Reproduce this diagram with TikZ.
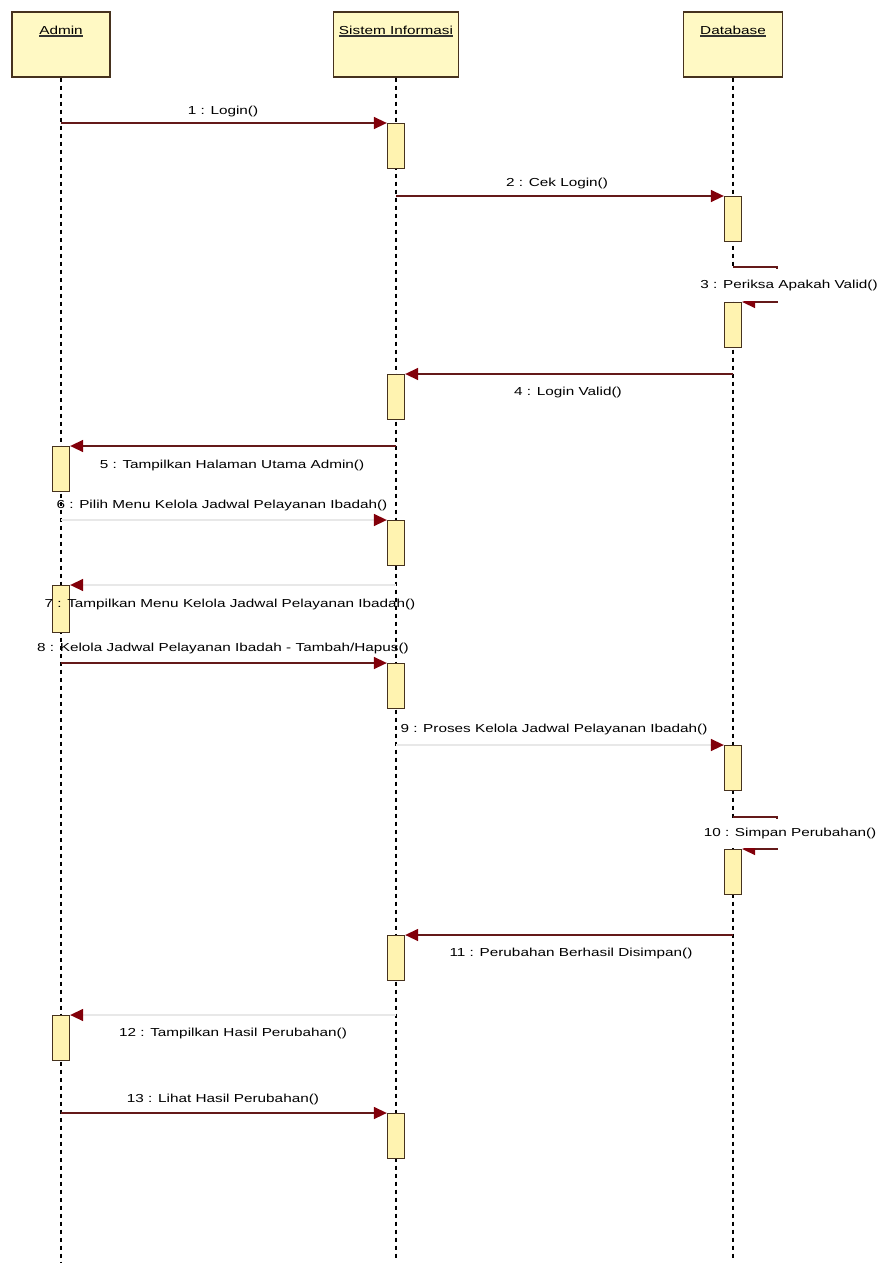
\documentclass[tikz,border=0pt]{standalone}
\usepackage{fontspec}
\setmainfont{Liberation Sans}
\usetikzlibrary{arrows.meta}
\definecolor{hdrfill}{RGB}{255,249,196}
\definecolor{actfill}{RGB}{255,243,176}
\definecolor{brd}{RGB}{70,50,30}
\definecolor{msgline}{RGB}{100,25,25}
\definecolor{headc}{RGB}{130,0,10}
\definecolor{faint}{RGB}{232,232,232}
\newcommand\wide[1]{\scalebox{1.32}[1]{#1}}
\begin{document}
\begin{tikzpicture}[x=1pt,y=-1pt,
  every node/.style={font=\fontsize{11.6}{13}\selectfont},
  header/.style={draw=brd, fill=hdrfill, line width=1.6pt, minimum width=#1, minimum height=65pt, anchor=north, inner sep=0},
  lifeline/.style={draw=black, line width=1.1pt, dash pattern=on 4pt off 4pt},
  act/.style={draw=brd, fill=actfill, line width=1.3pt, minimum width=17pt, minimum height=45pt, anchor=north, inner sep=0},
  msg/.style={draw=msgline, line width=1.5pt, -{Triangle[length=13pt,width=12pt,color=headc]}},
  faintmsg/.style={msg, draw=faint},
  lbl/.style={inner sep=0},
  hdrtext/.style={inner sep=0, anchor=base},
  uline/.style={draw=black!80, line width=1.2pt},
  selflbl/.style={fill=white, inner sep=0, inner xsep=1pt, minimum height=#1},
]
\useasboundingbox (0,0) rectangle (879,1266);

% headers
\node[header=98pt] (hA) at (61,11) {};
\node[header=125pt] (hS) at (396,11) {};
\node[header=99pt] (hD) at (733,11) {};
\node[hdrtext] (tA) at (61,34) {\wide{Admin}};
\node[hdrtext] (tS) at (396,34) {\wide{Sistem Informasi}};
\node[hdrtext] (tD) at (733,34) {\wide{Database}};
\draw[uline] ([yshift=-2pt]tA.base west) -- ([yshift=-2pt]tA.base east);
\draw[uline] ([yshift=-2pt]tS.base west) -- ([yshift=-2pt]tS.base east);
\draw[uline] ([yshift=-2pt]tD.base west) -- ([yshift=-2pt]tD.base east);

% lifelines
\coordinate (eA) at (61,1263);
\coordinate (eS) at (396,1260);
\coordinate (eD) at (733,1260);
\draw[lifeline] (hA.south) -- (eA);
\draw[lifeline] (hS.south) -- (eS);
\draw[lifeline] (hD.south) -- (eD);

% activations
\node[act] (S1) at (396,123) {};
\node[act] (D2) at (733,196) {};
\node[act] (D3) at (733,302) {};
\node[act] (S4) at (396,374) {};
\node[act] (A5) at (61,446) {};
\node[act] (S6) at (396,520) {};
\node[act,minimum height=47pt] (A7) at (61,585) {};
\node[act] (S8) at (396,663) {};
\node[act] (D9) at (733,745) {};
\node[act] (D10) at (733,849) {};
\node[act] (S11) at (396,935) {};
\node[act] (A12) at (61,1015) {};
\node[act] (S13) at (396,1113) {};

% messages
\coordinate (s3) at (733,267);
\coordinate (s10) at (733,817);
\draw[msg] (hA |- S1.north) -- (S1.north west);
\draw[msg] (hS |- D2.north) -- (D2.north west);
\draw[msg] (s3) -- ++(44,0) |- (D3.north east);
\draw[msg] (hD |- S4.north) -- (S4.north east);
\draw[msg] (hS |- A5.north) -- (A5.north east);
\draw[faintmsg] (hA |- S6.north) -- (S6.north west);
\draw[faintmsg] (hS |- A7.north) -- (A7.north east);
\draw[msg] (hA |- S8.north) -- (S8.north west);
\draw[faintmsg] (hS |- D9.north) -- (D9.north west);
\draw[msg] (s10) -- ++(44,0) |- (D10.north east);
\draw[msg] (hD |- S11.north) -- (S11.north east);
\draw[faintmsg] (hS |- A12.north) -- (A12.north east);
\draw[msg] (hA |- S13.north) -- (S13.north west);

% labels
\node[lbl] (m1) at (223,111) {\wide{1 : Login()}};
\node[lbl] (m2) at (557,183) {\wide{2 : Cek Login()}};
\node[selflbl=32pt] (m3) at (789,285) {\wide{3 : Periksa Apakah Valid()}};
\node[lbl] (m4) at (568,392) {\wide{4 : Login Valid()}};
\node[lbl] (m5) at (232,465) {\wide{5 : Tampilkan Halaman Utama Admin()}};
\node[lbl] (m6) at (222,505) {\wide{6 : Pilih Menu Kelola Jadwal Pelayanan Ibadah()}};
\node[lbl] (m7) at (230,604) {\wide{7 : Tampilkan Menu Kelola Jadwal Pelayanan Ibadah()}};
\node[lbl] (m8) at (223,648) {\wide{8 : Kelola Jadwal Pelayanan Ibadah - Tambah/Hapus()}};
\node[lbl] (m9) at (554,729) {\wide{9 : Proses Kelola Jadwal Pelayanan Ibadah()}};
\node[selflbl=29pt] (m10) at (790,833) {\wide{10 : Simpan Perubahan()}};
\node[lbl] (m11) at (571,953) {\wide{11 : Perubahan Berhasil Disimpan()}};
\node[lbl] (m12) at (233,1033) {\wide{12 : Tampilkan Hasil Perubahan()}};
\node[lbl] (m13) at (223,1099) {\wide{13 : Lihat Hasil Perubahan()}};
\end{tikzpicture}
\end{document}
